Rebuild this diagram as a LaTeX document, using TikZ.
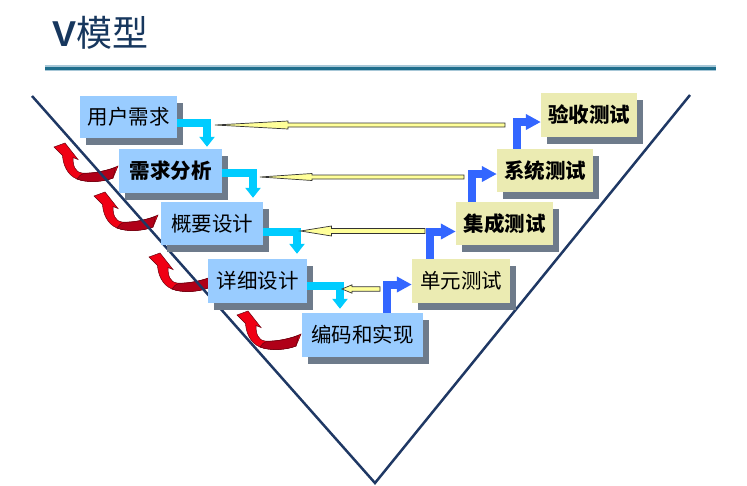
\documentclass[tikz,border=0pt]{standalone}
\usepackage{fontspec}
\setmainfont{Liberation Sans}
\newfontfamily\cjk{Noto Sans CJK SC}
\usetikzlibrary{arrows.meta,calc,shadows}
\definecolor{navy}{HTML}{17375E}
\definecolor{vline}{HTML}{1F3864}
\definecolor{sepdark}{HTML}{1F6E8C}
\definecolor{seplight}{HTML}{A7C7D7}
\definecolor{lblue}{HTML}{99CCFF}
\definecolor{lyellow}{HTML}{EBEBB2}
\definecolor{shgray}{HTML}{6E7B8B}
\definecolor{cyanc}{HTML}{00CCFF}
\definecolor{bluec}{HTML}{3366FF}
\definecolor{yfill}{HTML}{FFFF99}
\definecolor{redb}{HTML}{F00014}
\definecolor{redd}{HTML}{B00018}
\newcommand\yellowshaft[5]{%
  \filldraw[yarrow] (#2) -- ($(#2)+(#3,-#4)$) -- ($(#2)+(#3,-#5)$) -- ($(#1)+(0,-#5)$)
    -- ($(#1)+(0,#5)$) -- ($(#2)+(#3,#5)$) -- ($(#2)+(#3,#4)$) -- cycle;}
\begin{document}
\begin{tikzpicture}[x=1pt,y=-1pt,
  boxbase/.style={inner sep=0pt, text=black, font=\cjk\fontsize{20.5}{20.5}\selectfont,
    general shadow={fill=shgray, shadow xshift=6pt, shadow yshift=-7pt}},
  lbox/.style={boxbase, fill=lblue},
  rbox/.style={boxbase, fill=lyellow},
  carrow/.style={draw=cyanc, line width=8pt, line join=miter, -{Triangle[length=10pt,width=15pt]}},
  barrow/.style={draw=bluec, line width=8pt, line join=miter, -{Triangle[length=15pt,width=15pt]}},
  yarrow/.style={fill=yfill, draw=black!80, line width=0.7pt, line join=miter},
  redarrow/.style={fill=redb, draw=redd!60!black, line width=0.5pt},
  reddark/.style={fill=redd, draw=redd!60!black, line width=0.5pt},
  vstroke/.style={draw=vline, line width=2.5pt}
]
\useasboundingbox (0,0) rectangle (747,485);
% title
\node[anchor=base west, inner sep=0pt, text=navy] (title) at (52,46)
  {\fontsize{36}{36}\selectfont\bfseries V\cjk\mdseries 模型};
% separator
\draw[seplight, line width=2pt] (45,66) -- (716,66);
\draw[sepdark, line width=2.5pt] (45,68.3) -- (716,68.3);
\draw[seplight, line width=1.2pt] (45,70.3) -- (716,70.3);
% red curved arrows
\foreach \px/\py in {65/144,105/193,160/254,248/312}{
  \begin{scope}[shift={(\px,\py)}]
    \filldraw[redarrow] (0,-1) -- (13,15.5) -- (8,13.5)
      .. controls (8,22) and (10,28) .. (17,29)
      .. controls (28,30) and (45,26) .. (53,22)
      -- (48,34)
      .. controls (38,38) and (22,39) .. (12,35)
      .. controls (2,31) and (-2,20) .. (-2.5,11.5)
      -- (-11,3) -- cycle;
    \filldraw[reddark] (19,29.3) .. controls (30,29.5) and (42,26.5) .. (50.5,23.5)
      -- (48,34)
      .. controls (38,38) and (22,39) .. (12,35)
      .. controls (14,32) and (16,30) .. (19,29.3) -- cycle;
  \end{scope}
}
% V shape
\coordinate (vl) at (32,96);
\coordinate (vb) at (375,483);
\coordinate (vr) at (690,95);
\draw[vstroke, line join=miter] (vl) -- (vb) -- (vr);
% left boxes
\node[lbox, minimum width=97pt, minimum height=42pt] (b1) at (128.5,117) {用户需求};
\node[lbox, minimum width=103pt, minimum height=44pt] (b2) at (170.5,171) {\bfseries 需求分析};
\node[lbox, minimum width=102pt, minimum height=43pt] (b3) at (212,223.5) {概要设计};
\node[lbox, minimum width=99pt, minimum height=44pt] (b4) at (257.5,281) {详细设计};
\node[lbox, minimum width=121pt, minimum height=44pt] (b5) at (362.5,335) {编码和实现};
% right boxes
\node[rbox, minimum width=98pt, minimum height=44pt] (r4) at (461,281) {单元测试};
\node[rbox, minimum width=97pt, minimum height=43pt] (r3) at (504.5,223.5) {\bfseries 集成测试};
\node[rbox, minimum width=96pt, minimum height=43pt] (r2) at (545,170.5) {\bfseries 系统测试};
\node[rbox, minimum width=96pt, minimum height=44pt] (r1) at (589,115) {\bfseries 验收测试};
% cyan arrows (descending)
\draw[carrow] ([yshift=-6pt]b1.east) -| ([xshift=36.5pt,yshift=2pt]b2.north);
\draw[carrow] ([yshift=-2pt]b2.east) -| ([xshift=41pt,yshift=4pt]b3.north);
\draw[carrow] ([yshift=-8.5pt]b3.east) -| ([xshift=39.5pt,yshift=5pt]b4.north);
\draw[carrow] ([yshift=-4.5pt]b4.east) -| ([xshift=-22.5pt,yshift=4pt]b5.north);
% blue arrows (ascending)
\draw[barrow] ([xshift=24pt]b5.north) |- ([yshift=-3.5pt]r4.west);
\draw[barrow] ([xshift=-31pt]r4.north) |- ([yshift=-8pt]r3.west);
\draw[barrow] ([xshift=-33pt]r3.north) |- ([yshift=-3.5pt]r2.west);
\draw[barrow] ([xshift=-28.5pt]r2.north) |- ([yshift=-7pt]r1.west);
% yellow arrows (verification)
\coordinate (ya1) at (505,125); \coordinate (yb1) at (215,125);
\coordinate (ya2) at (464,177); \coordinate (yb2) at (260,177);
\coordinate (ya3) at (425,231); \coordinate (yb3) at (300.5,231);
\coordinate (ya4) at (380,289); \coordinate (yb4) at (342,289);
\yellowshaft{ya1}{yb1}{73}{4}{2}
\yellowshaft{ya2}{yb2}{52}{3.5}{2}
\yellowshaft{ya3}{yb3}{31}{5}{2.5}
\yellowshaft{ya4}{yb4}{10}{4.2}{2.2}
\end{tikzpicture}
\end{document}
